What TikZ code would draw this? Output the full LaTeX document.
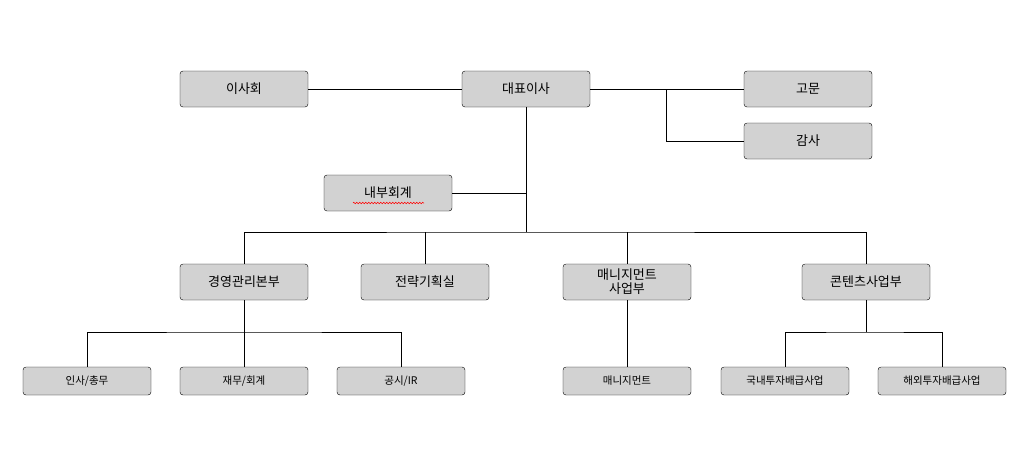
\documentclass[tikz,border=0pt]{standalone}
\usepackage{fontspec}
\setmainfont{Noto Sans CJK KR}
\usetikzlibrary{decorations.pathmorphing}
\begin{document}
\begin{tikzpicture}[x=1pt,y=-1pt,
  box/.style={draw=black,fill=gray!35!white,rounded corners=3pt,minimum width=128pt,minimum height=36pt,font=\fontsize{13}{15}\selectfont,align=center,inner sep=1pt},
  sbox/.style={box,minimum height=28pt,font=\fontsize{10.5}{12}\selectfont},
  ln/.style={draw=black,line width=0.6pt}]
\useasboundingbox (0,0) rectangle (1017,467);
\node[box] (isa) at (244,89) {이사회};
\node[box] (ceo) at (526,89) {대표이사};
\node[box] (gomun) at (808,89) {고문};
\node[box] (gamsa) at (808,141) {감사};
\node[box] (nb) at (388,193) {내부회계};
\node[box] (gy) at (244,282) {경영관리본부};
\node[box] (jr) at (425,282) {전략기획실};
\node[box,font=\fontsize{13}{14}\selectfont] (mg) at (627,282) {매니지먼트\\사업부};
\node[box] (ct) at (866,282) {콘텐츠사업부};
\node[sbox] (is) at (87,381) {인사/총무};
\node[sbox] (jm) at (244,381) {재무/회계};
\node[sbox] (gs) at (401,381) {공시/IR};
\node[sbox] (mm) at (627,381) {매니지먼트};
\node[sbox] (gn) at (785,381) {국내투자배급사업};
\node[sbox] (hw) at (942,381) {해외투자배급사업};
\draw[red,line width=0.5pt,decorate,decoration={zigzag,amplitude=0.8pt,segment length=3pt}] (353,203) -- (424,203);
\coordinate (c1) at (666,89);
\coordinate (j1) at (526,232);
\coordinate (j2) at (244,332);
\coordinate (j3) at (866,332);
\path[ln] (isa) -- (ceo) -- (gomun);
\path[ln] (c1) |- (gamsa);
\path[ln] (ceo) -- (j1);
\path[ln] (nb.east) -- (nb.east -| j1);
\path[ln] (gy) |- (j1) -| (ct);
\path[ln] (jr.north) -- (jr.north |- j1);
\path[ln] (mg.north) -- (mg.north |- j1);
\path[ln] (gy) -- (jm);
\path[ln] (is) |- (j2) -| (gs);
\path[ln] (mg) -- (mm);
\path[ln] (ct) -- (j3);
\path[ln] (gn) |- (j3) -| (hw);
\end{tikzpicture}
\end{document}
